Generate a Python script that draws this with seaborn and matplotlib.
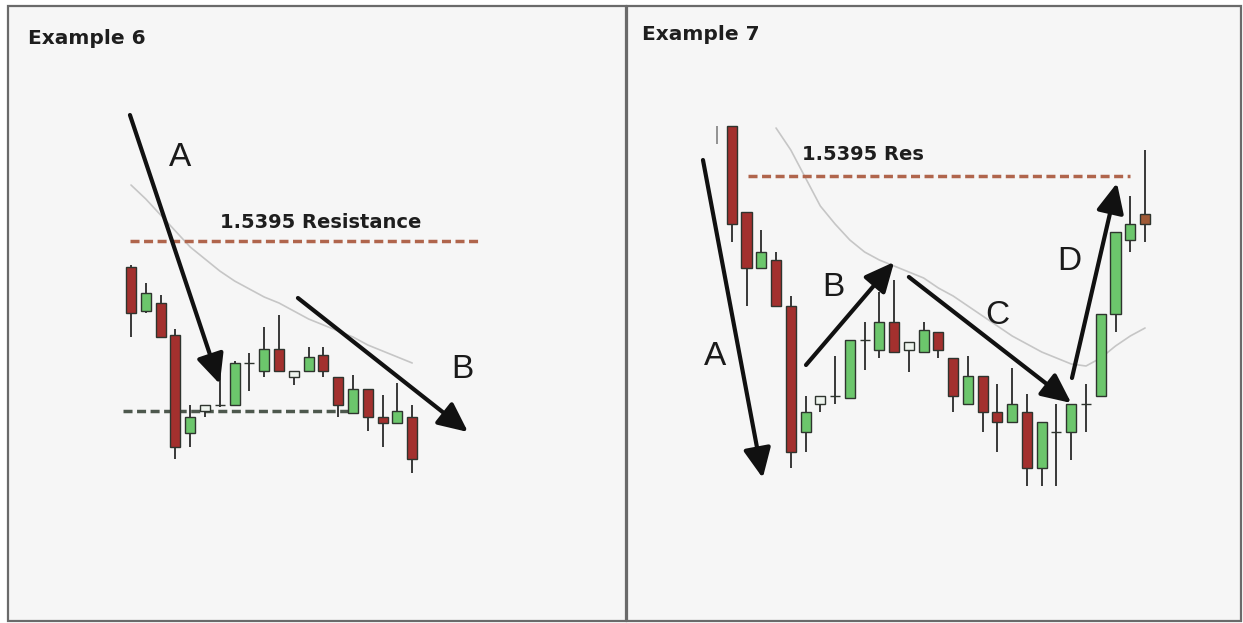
import numpy as np
import pandas as pd
import matplotlib
matplotlib.use("Agg")
import matplotlib.pyplot as plt
import seaborn as sns
from matplotlib.patches import Rectangle

sns.set_theme(style="white")
plt.rcParams['font.family'] = ['DejaVu Sans']

# --- Example 6 candles (open, high, low, close) ---
left_open = [1.5382, 1.5360, 1.5364, 1.5348, 1.5299, 1.5310, 1.5313, 1.5313, 1.5334, 1.5330,
             1.5341, 1.5327, 1.5330, 1.5338, 1.5327, 1.5309, 1.5321, 1.5307, 1.5304, 1.5307]
left_high = [1.5383, 1.5374, 1.5368, 1.5351, 1.5313, 1.5313, 1.5338, 1.5335, 1.5339, 1.5352,
             1.5358, 1.5330, 1.5342, 1.5342, 1.5327, 1.5328, 1.5321, 1.5318, 1.5324, 1.5313]
left_low = [1.5347, 1.5359, 1.5347, 1.5286, 1.5292, 1.5307, 1.5312, 1.5313, 1.5320, 1.5327,
            1.5330, 1.5323, 1.5330, 1.5327, 1.5307, 1.5309, 1.5300, 1.5292, 1.5304, 1.5279]
left_close = [1.5359, 1.5369, 1.5347, 1.5292, 1.5307, 1.5313, 1.5313, 1.5334, 1.5334, 1.5341,
              1.5330, 1.5330, 1.5337, 1.5330, 1.5313, 1.5321, 1.5307, 1.5304, 1.5310, 1.5286]
left_ma = [1.5423, 1.5416, 1.5408, 1.5400, 1.5392, 1.5386, 1.5380, 1.5375, 1.5371, 1.5367,
           1.5364, 1.5360, 1.5356, 1.5353, 1.5350, 1.5347, 1.5343, 1.5340, 1.5337, 1.5334]
left_support = 1.5310

# --- Example 7 candles ---
right_open = [1.5420, 1.5420, 1.5377, 1.5349, 1.5353, 1.5330, 1.5267, 1.5281, 1.5285, 1.5284,
              1.5313, 1.5308, 1.5322, 1.5308, 1.5307, 1.5317, 1.5304, 1.5281, 1.5295, 1.5277,
              1.5272, 1.5277, 1.5249, 1.5267, 1.5267, 1.5281, 1.5285, 1.5326, 1.5363, 1.5376]
right_high = [1.5420, 1.5420, 1.5377, 1.5368, 1.5357, 1.5335, 1.5285, 1.5285, 1.5305, 1.5313,
              1.5322, 1.5337, 1.5343, 1.5312, 1.5322, 1.5317, 1.5304, 1.5305, 1.5295, 1.5291,
              1.5299, 1.5286, 1.5272, 1.5281, 1.5281, 1.5291, 1.5326, 1.5367, 1.5385, 1.5408]
right_low = [1.5411, 1.5362, 1.5330, 1.5349, 1.5330, 1.5249, 1.5257, 1.5277, 1.5281, 1.5284,
             1.5298, 1.5304, 1.5307, 1.5297, 1.5307, 1.5304, 1.5277, 1.5281, 1.5267, 1.5257,
             1.5272, 1.5240, 1.5240, 1.5240, 1.5253, 1.5267, 1.5285, 1.5317, 1.5357, 1.5362]
right_close = [1.5420, 1.5371, 1.5349, 1.5357, 1.5330, 1.5257, 1.5277, 1.5285, 1.5285, 1.5313,
               1.5313, 1.5322, 1.5307, 1.5312, 1.5318, 1.5308, 1.5285, 1.5295, 1.5277, 1.5272,
               1.5281, 1.5249, 1.5272, 1.5267, 1.5281, 1.5281, 1.5326, 1.5367, 1.5371, 1.5371]
right_ma_start = 4
right_ma = [1.5419, 1.5408, 1.5394, 1.5380, 1.5371, 1.5363, 1.5357, 1.5353, 1.5350, 1.5347,
            1.5344, 1.5339, 1.5335, 1.5330, 1.5325, 1.5320, 1.5315, 1.5311, 1.5307, 1.5304,
            1.5301, 1.5300, 1.5304, 1.5310, 1.5315, 1.5319]

resistance = 1.5395

RED = '#a3302e'
GREEN = '#6cc66c'
PANEL = '#f6f6f6'


def draw_candles(ax, o, h, l, c, last_color=None, faded_first=False):
    df = pd.DataFrame({'open': o, 'high': h, 'low': l, 'close': c})
    df['x'] = np.arange(len(df))
    up = df['close'] >= df['open']
    height = (df['close'] - df['open']).abs()
    bottom = df[['open', 'close']].min(axis=1)
    colors = np.where(up, GREEN, RED)
    colors = np.where(up & (height < 0.00045), '#eef4ee', colors)
    wick_colors = ['#2a2a2a'] * len(df)
    if faded_first:
        wick_colors[0] = '#8a8a8a'
    ax.vlines(df['x'], df['low'], df['high'], colors=wick_colors, lw=1.3, zorder=3)
    bars = ax.bar(df['x'], height, bottom=bottom, width=0.68, color=colors,
                  edgecolor='#2e342e', linewidth=1.0, zorder=4)
    if faded_first:
        bars[0].set_visible(False)
    if last_color is not None:
        bars[-1].set_facecolor(last_color)


def arrow(ax, start, tip):
    ax.annotate('', xy=tip, xytext=start,
                arrowprops=dict(arrowstyle='-|>,head_length=0.9,head_width=0.42',
                                lw=3, color='#111111', mutation_scale=20,
                                shrinkA=0, shrinkB=0), zorder=6)


def panel(ax, x0, x1, title, tx, ty):
    ax.set_axis_off()
    ax.add_patch(Rectangle((x0, 0.0032), x1 - x0, 0.9872, transform=ax.transAxes,
                           facecolor=PANEL, edgecolor='#6a6a6a', lw=1.6,
                           clip_on=False, zorder=0))
    ax.text(tx, ty, title, transform=ax.transAxes, fontsize=14.5, fontweight='bold',
            color='#1e1e1e', ha='left', va='center')


fig = plt.figure(figsize=(12.43, 6.23), dpi=100)
fig.patch.set_facecolor('white')

# ---------- Example 6 ----------
ax1 = fig.add_axes([0, 0, 626.5 / 1243, 1])
ax1.set_facecolor('none')
panel(ax1, 0.0128, 0.9992, 'Example 6', 0.045, 0.939)
ax1.set_xlim(-8.851, 33.48)
ax1.set_ylim(1.5204, 1.55155)

sns.lineplot(x=np.arange(len(left_ma)), y=left_ma, ax=ax1, color='#c6c6c6', lw=1.2, zorder=2)
draw_candles(ax1, left_open, left_high, left_low, left_close)

ax1.hlines(resistance, -0.07, 23.45, color='#b0654c', lw=2.5,
           linestyles=(0, (2.6, 1.3)), zorder=2)
ax1.hlines(left_support, -0.54, 14.8, color='#4d584d', lw=2.5,
           linestyles=(0, (2.6, 1.3)), zorder=2)
ax1.text(12.84, resistance + 0.0009, '1.5395 Resistance', fontsize=14,
         fontweight='bold', color='#1e1e1e', ha='center', va='center')

arrow(ax1, (-0.07, 1.5458), (6.0, 1.53235))
arrow(ax1, (11.28, 1.53665), (22.77, 1.52995))
ax1.text(3.3, 1.54365, 'A', fontsize=24, family='Liberation Sans', color='#1a1a1a',
         ha='center', va='center')
ax1.text(22.36, 1.53305, 'B', fontsize=24, family='Liberation Sans', color='#1a1a1a',
         ha='center', va='center')

# ---------- Example 7 ----------
ax2 = fig.add_axes([626.5 / 1243, 0, 616.5 / 1243, 1])
ax2.set_facecolor('none')
panel(ax2, 0.0, 0.9968, 'Example 7', 0.025, 0.945)
ax2.set_xlim(-6.131, 35.637)
ax2.set_ylim(1.51715, 1.5483)

sns.lineplot(x=np.arange(right_ma_start, right_ma_start + len(right_ma)), y=right_ma,
             ax=ax2, color='#c6c6c6', lw=1.2, zorder=2)
draw_candles(ax2, right_open, right_high, right_low, right_close,
             last_color='#a05a36', faded_first=True)

ax2.hlines(resistance, 2.1, 28.0, color='#b0654c', lw=2.5,
           linestyles=(0, (2.6, 1.3)), zorder=2)
ax2.text(9.9, resistance + 0.00105, '1.5395 Res', fontsize=14,
         fontweight='bold', color='#1e1e1e', ha='center', va='center')

arrow(ax2, (-0.95, 1.5403), (3.1, 1.5244))
arrow(ax2, (6.03, 1.53005), (12.0, 1.5352))
arrow(ax2, (13.0, 1.53445), (24.0, 1.52815))
arrow(ax2, (24.05, 1.5294), (27.1, 1.53915))
for lbl, x, y in [('A', -0.14, 1.53045), ('B', 7.86, 1.5339),
                  ('C', 18.97, 1.5325), ('D', 23.85, 1.5352)]:
    ax2.text(x, y, lbl, fontsize=24, family='Liberation Sans', color='#1a1a1a',
             ha='center', va='center')

fig.savefig('out.png', dpi=100, facecolor=fig.get_facecolor())
